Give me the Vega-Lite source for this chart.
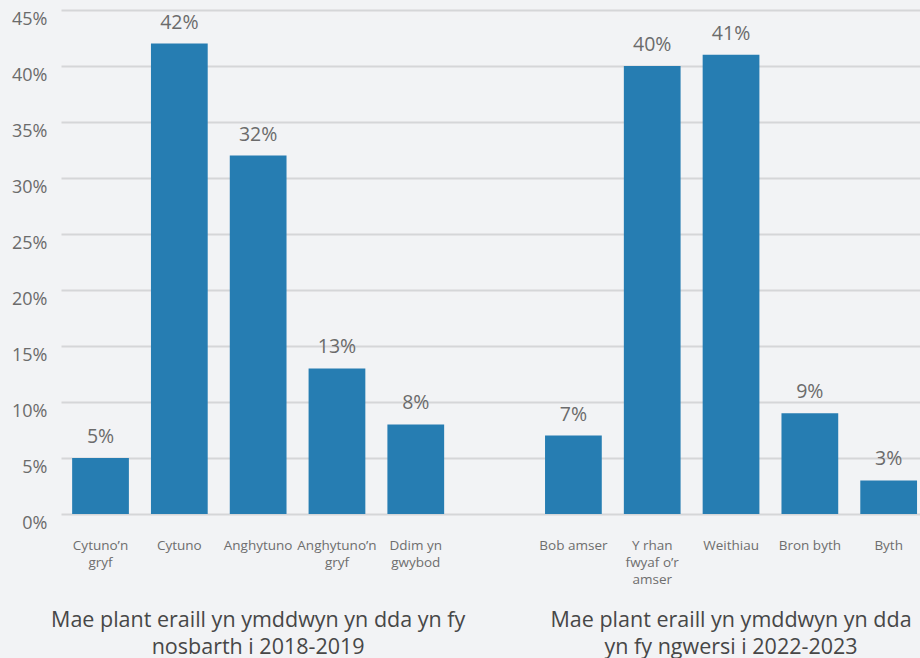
{
  "$schema": "https://vega.github.io/schema/vega-lite/v6.json",
  "width": 859,
  "height": 504,
  "autosize": {"type": "none"},
  "padding": {"left": 61, "top": 10, "right": 0, "bottom": 144},
  "background": "#f2f3f5",
  "config": {
    "view": {"stroke": null},
    "font": "Open Sans",
    "axis": {"labelFont": "Open Sans"}
  },
  "datasets": {
    "bars": [
      {"category": "Cytuno’n\ngryf", "value": 0.05},
      {"category": "Cytuno", "value": 0.42},
      {"category": "Anghytuno", "value": 0.32},
      {"category": "Anghytuno’n\ngryf", "value": 0.13},
      {"category": "Ddim yn\ngwybod", "value": 0.08},
      {"category": "Bob amser", "value": 0.07},
      {"category": "Y rhan\nfwyaf o’r\namser", "value": 0.40},
      {"category": "Weithiau", "value": 0.41},
      {"category": "Bron byth", "value": 0.09},
      {"category": "Byth", "value": 0.03}
    ],
    "groups": [
      {"category": "Anghytuno", "title": "Mae plant eraill yn ymddwyn yn dda yn fy\nnosbarth i 2018-2019"},
      {"category": "Weithiau", "title": "Mae plant eraill yn ymddwyn yn dda\nyn fy ngwersi i 2022-2023"}
    ]
  },
  "data": {"name": "bars"},
  "encoding": {
    "x": {
      "field": "category",
      "type": "nominal",
      "scale": {
        "domain": ["Cytuno’n\ngryf", "Cytuno", "Anghytuno", "Anghytuno’n\ngryf", "Ddim yn\ngwybod", " ", "Bob amser", "Y rhan\nfwyaf o’r\namser", "Weithiau", "Bron byth", "Byth"],
        "paddingInner": 0.28,
        "paddingOuter": 0.0895,
        "align": 0.79
      },
      "axis": {
        "title": null,
        "labelAngle": 0,
        "domain": false,
        "ticks": false,
        "labelFontSize": 13.5,
        "labelColor": "#6e6e6e",
        "labelPadding": 24,
        "labelLineHeight": 17,
        "labelOverlap": false,
        "labelLimit": 200,
        "labelExpr": "split(datum.value, '\\n')"
      }
    }
  },
  "layer": [
    {
      "mark": {"type": "bar", "color": "#267db2"},
      "encoding": {
        "y": {
          "field": "value",
          "type": "quantitative",
          "scale": {"domain": [0, 0.45], "nice": false},
          "axis": {
            "title": null,
            "values": [0, 0.05, 0.1, 0.15, 0.2, 0.25, 0.3, 0.35, 0.4, 0.45],
            "format": ".0%",
            "domain": false,
            "ticks": false,
            "grid": true,
            "gridColor": "#d5d6d8",
            "gridWidth": 2,
            "labelFontSize": 18,
            "labelColor": "#6b6b6b",
            "labelPadding": 14,
            "labelBaseline": "middle",
            "labelOffset": 9
          }
        }
      }
    },
    {
      "mark": {"type": "text", "baseline": "alphabetic", "dy": -15, "fontSize": 19.5, "color": "#6b6b6b"},
      "encoding": {
        "y": {"field": "value", "type": "quantitative"},
        "text": {"field": "value", "type": "quantitative", "format": ".0%"}
      }
    },
    {
      "data": {"name": "groups"},
      "mark": {"type": "text", "baseline": "top", "dy": 96, "fontSize": 21.5, "lineHeight": 27, "lineBreak": "\n", "color": "#474747"},
      "encoding": {
        "y": {"datum": 0, "type": "quantitative"},
        "text": {"field": "title", "type": "nominal"}
      }
    }
  ]
}
